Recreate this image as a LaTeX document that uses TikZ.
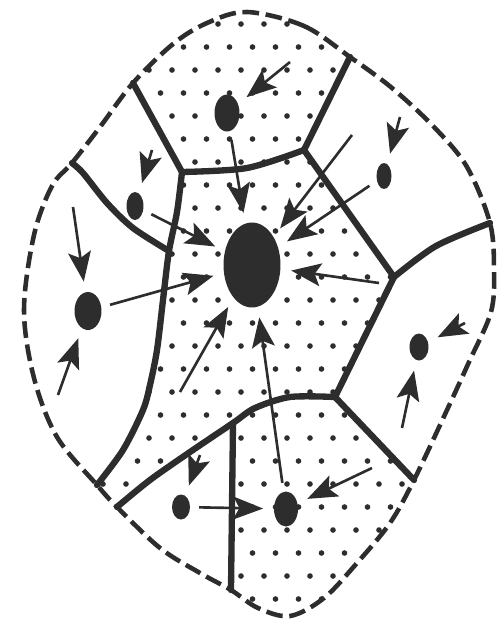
\documentclass[tikz,border=0pt]{standalone}
\usepackage{tikz}
\usetikzlibrary{arrows.meta,shapes.geometric}
\usepackage{xcolor}
\definecolor{ink}{RGB}{45,45,45}
\tikzset{
  wall/.style={draw=ink, line width=3.6pt, line join=round, line cap=round},
  rim/.style={draw=ink, line width=2.6pt, dash pattern=on 9.5pt off 3.8pt},
  nuc/.style 2 args={ellipse, fill=ink, inner sep=0pt, minimum width=#1, minimum height=#2},
  flow/.style={-{Stealth[length=17pt, width=13pt, inset=3.5pt]}, draw=ink, line width=1.5pt, shorten >=6pt},
  pip/.style={fill=ink}
}
\newcommand{\rimpath}{plot[smooth cycle, tension=0.55] coordinates {(247,12) (304,26) (350,57) (392,88) (434,127) (467,167) (490,223) (494,270) (491,312) (469,362) (447,410) (414,480) (390,523) (357,563) (324,598) (290,616) (258,608) (231,590) (200,573) (160,548) (117,507) (97,485) (57,437) (34,378) (24,310) (34,235) (52,186) (72,163) (100,127) (133,83) (173,44) (207,23)}}
\newcommand{\dotgrid}{\foreach \j in {0,...,26} \foreach \i in {0,...,21} \fill[pip] ({11+23*\i+11.5*mod(\j,2)},{24+23*\j}) circle (1.6pt);}

\begin{document}
\begin{tikzpicture}[x=0.02cm, y=-0.02cm]
  \useasboundingbox (0,0) rectangle (497,623);
  \coordinate (A) at (182,172);
  \coordinate (B) at (304,150);
  \coordinate (C) at (394,277);
  \coordinate (D) at (335,397);
  \coordinate (E) at (233,423);
  \coordinate (G) at (169,251);
  \coordinate (H) at (72,163);
  \coordinate (tA) at (133,83);
  \coordinate (tB) at (350,57);
  \coordinate (tC) at (490,223);
  \coordinate (tD) at (414,480);
  \coordinate (tE) at (231,590);
  \coordinate (tF) at (117,507);
  \coordinate (tG) at (97,485);

  \begin{scope}
    \clip \rimpath;
    \clip (A) -- (tA) -- (115,50) -- (115,0) -- (370,0) -- (370,20) -- (tB) -- (B) -- (247,168) -- cycle;
    \dotgrid
  \end{scope}
  \begin{scope}
    \clip \rimpath;
    \clip (A) -- (247,168) -- (B) -- (C) -- (D) -- (290,397) -- (255,408) -- (E) -- (190,452) -- (150,480) -- (tF) -- (95,525) -- (75,490) -- (tG) -- (123,450) -- (143,410) -- (150,385) -- (157,350) -- (163,300) -- (G) -- (177,212) -- cycle;
    \dotgrid
  \end{scope}
  \begin{scope}
    \clip \rimpath;
    \clip (E) -- (255,408) -- (290,397) -- (D) -- (tD) -- (440,500) -- (330,660) -- (229,640) -- (tE) -- cycle;
    \dotgrid
  \end{scope}

  \node[nuc={1.14cm}{1.70cm}] (nC) at (252,265) {};
  \node[nuc={0.50cm}{0.74cm}] (nT) at (227,113) {};
  \node[nuc={0.34cm}{0.56cm}] (nLT) at (135,206) {};
  \node[nuc={0.54cm}{0.76cm}] (nL) at (88,311) {};
  \node[nuc={0.30cm}{0.52cm}] (nRT) at (384,176) {};
  \node[nuc={0.38cm}{0.54cm}] (nR) at (419,347) {};
  \node[nuc={0.36cm}{0.50cm}] (nBL) at (181,507) {};
  \node[nuc={0.48cm}{0.70cm}] (nB) at (286,509) {};

  \draw[wall] (tA) -- (A);
  \draw[wall] plot[smooth] coordinates {(A) (247,168) (B)};
  \draw[wall] (B) -- (tB);
  \draw[wall] (B) -- (C);
  \draw[wall] plot[smooth] coordinates {(C) (436,246) (tC)};
  \draw[wall] (C) -- (D) -- (tD);
  \draw[wall] plot[smooth] coordinates {(D) (290,397) (255,408) (E) (190,452) (150,480) (tF)};
  \draw[wall] (E) -- (tE);
  \draw[wall] plot[smooth] coordinates {(A) (177,212) (G) (163,300) (157,350) (150,385) (143,410) (123,450) (tG)};
  \draw[wall] plot[smooth] coordinates {(H) (83,173) (107,203) (133,228) (G)};
  \draw[rim] \rimpath;

  \coordinate (sT) at (290,62);
  \coordinate (sRT) at (400,117);
  \coordinate (sX) at (352,135);
  \coordinate (sR) at (379,283);
  \coordinate (sLT) at (152,150);
  \coordinate (sL1) at (73,207);
  \coordinate (sL2) at (58,395);
  \coordinate (sY) at (180,392);
  \coordinate (sR1) at (465,323);
  \coordinate (sR2) at (402,428);
  \coordinate (sBL) at (200,455);
  \coordinate (sB) at (372,468);

  \draw[flow] (sT) -- (nT);
  \draw[flow, shorten <=5pt] (nT) -- (nC);
  \draw[flow] (sX) -- (nC);
  \draw[flow] (sRT) -- (nRT);
  \draw[flow, shorten <=5pt] (nRT) -- (nC);
  \draw[flow] (sR) -- (nC);
  \draw[flow] (sLT) -- (nLT);
  \draw[flow, shorten <=5pt] (nLT) -- (nC);
  \draw[flow] (sL1) -- (nL);
  \draw[flow] (sL2) -- (nL);
  \draw[flow, shorten <=5pt] (nL) -- (nC);
  \draw[flow] (sY) -- (nC);
  \draw[flow, shorten <=5pt] (nB) -- (nC);
  \draw[flow] (sR1) -- (nR);
  \draw[flow] (sR2) -- (nR);
  \draw[flow] (sBL) -- (nBL);
  \draw[flow, shorten <=5pt] (nBL) -- (nB);
  \draw[flow] (sB) -- (nB);
\end{tikzpicture}
\end{document}
